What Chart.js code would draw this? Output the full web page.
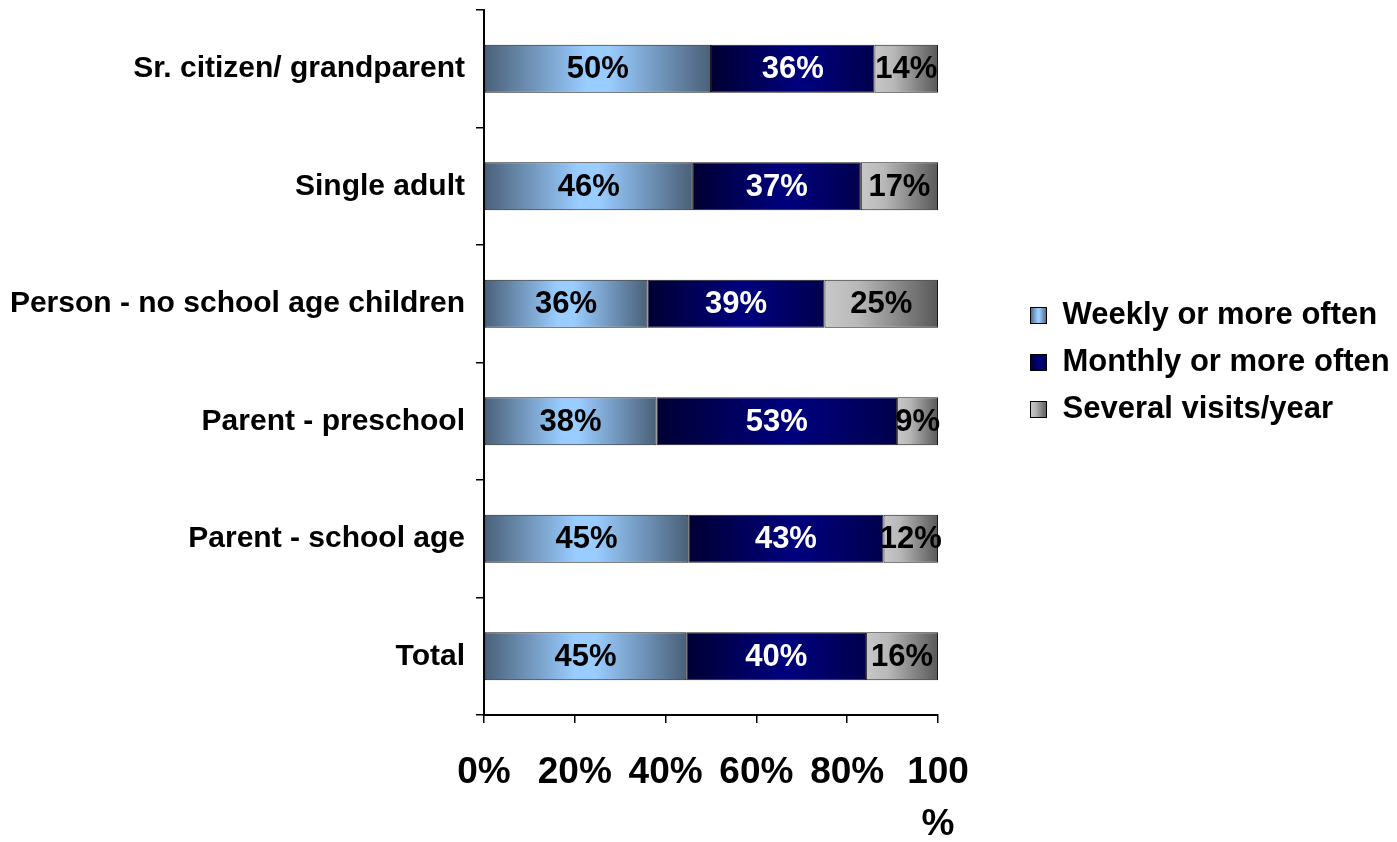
<!DOCTYPE html>
<html>
<head>
<meta charset="utf-8">
<script src="https://cdn.jsdelivr.net/npm/chart.js@4/dist/chart.umd.min.js"></script>
<style>
  html, body { margin: 0; padding: 0; background: #fff; }
  #wrap { width: 1397px; height: 842px; }
</style>
</head>
<body>
<div id="wrap"><canvas id="chart" width="1397" height="842"></canvas></div>
<script>
const categories = ['Sr. citizen/ grandparent', 'Single adult', 'Person - no school age children', 'Parent - preschool', 'Parent - school age', 'Total'];
const seriesNames = ['Weekly or more often', 'Monthly or more often', 'Several visits/year'];
const weekly = [50, 46, 36, 38, 45, 45];
const monthly = [36, 37, 39, 53, 43, 40];
const several = [14, 17, 25, 9, 12, 16];
const xTicks = [0, 20, 40, 60, 80, 100];

const FONT = "'Liberation Sans', Arial, sans-serif";

// gradient stops, left to right across each segment
const weeklyStops = [[0, '#4a6078'], [0.45, '#99ccff'], [0.55, '#99ccff'], [1, '#4a6078']];
const monthlyStops = [[0, '#000033'], [0.55, '#000080'], [1, '#00004d']];
const severalStops = [[0, '#c8c8c8'], [0.3, '#b8b8b8'], [1, '#585858']];

const raw = [weekly, monthly, several];
// 100% stacked: each row scaled to its own total
const rowTotals = categories.map((c, i) => weekly[i] + monthly[i] + several[i]);
const pct = raw.map(arr => arr.map((v, i) => v / rowTotals[i] * 100));

function barFill(stops) {
    return function(ctx) {
        const chart = ctx.chart;
        const x = chart.scales.x;
        if (!x || !chart.chartArea || ctx.type !== 'data') return stops[1][1];
        let start = 0;
        for (let k = 0; k < ctx.datasetIndex; k++) start += pct[k][ctx.dataIndex];
        const end = start + pct[ctx.datasetIndex][ctx.dataIndex];
        const g = chart.ctx.createLinearGradient(x.getPixelForValue(start), 0, x.getPixelForValue(end), 0);
        stops.forEach(s => g.addColorStop(s[0], s[1]));
        return g;
    };
}

function legendSwatch(stops) {
    const c = document.createElement('canvas');
    c.width = 17; c.height = 17;
    const g2 = c.getContext('2d');
    const g = g2.createLinearGradient(0, 0, 17, 0);
    stops.forEach(s => g.addColorStop(s[0], s[1]));
    g2.fillStyle = g;
    g2.fillRect(0, 0, 17, 17);
    g2.strokeStyle = '#000';
    g2.lineWidth = 1;
    g2.strokeRect(0.5, 0.5, 16, 16);
    return c;
}

const allStops = [weeklyStops, monthlyStops, severalStops];
const swatches = allStops.map(legendSwatch);
const labelColors = ['#000', '#fff', '#000'];

// value labels centred in each segment
const segmentLabels = {
    id: 'segmentLabels',
    afterDatasetsDraw(chart) {
        const c = chart.ctx;
        c.save();
        c.font = 'bold 31px ' + FONT;
        c.textAlign = 'center';
        c.textBaseline = 'middle';
        chart.data.datasets.forEach((ds, d) => {
            chart.getDatasetMeta(d).data.forEach((el, i) => {
                c.fillStyle = labelColors[d];
                c.fillText(raw[d][i] + '%', (el.x + el.base) / 2, el.y + 1);
            });
        });
        c.restore();
    }
};

// legend sits well right of the plot, centred on the plot height
const legendShift = {
    id: 'legendShift',
    afterLayout(chart) {
        const lg = chart.legend;
        if (!lg) return;
        lg.left = 1014;
        lg.right = 1397;
        lg.width = lg.right - lg.left;
        lg.top = chart.chartArea.top;
        lg.bottom = chart.chartArea.bottom;
        lg.height = lg.bottom - lg.top;
    }
};

new Chart(document.getElementById('chart'), {
    type: 'bar',
    data: {
        labels: categories,
        datasets: seriesNames.map((name, d) => ({
            label: name,
            data: pct[d],
            backgroundColor: barFill(allStops[d]),
            borderColor: '#1a1a1a',
            borderWidth: 1,
            borderSkipped: false,
            categoryPercentage: 1,
            barPercentage: 0.41
        }))
    },
    options: {
        indexAxis: 'y',
        responsive: false,
        animation: false,
        devicePixelRatio: 1,
        layout: { padding: { top: 10, left: 0, right: 0, bottom: 0 } },
        scales: {
            x: {
                stacked: true,
                min: 0,
                max: 100,
                afterBuildTicks(s) { s.ticks = xTicks.map(v => ({ value: v })); },
                afterFit(s) { s.height = 127; s.paddingRight = 459; },
                border: { color: '#000', width: 2 },
                grid: { drawOnChartArea: false, tickLength: 8, color: '#000', lineWidth: 1.5 },
                ticks: {
                    color: '#000',
                    padding: 24,
                    maxRotation: 0,
                    font: { family: FONT, size: 37, weight: 'bold', lineHeight: 1.4 },
                    callback: v => v === 100 ? ['100', '%'] : v + '%'
                }
            },
            y: {
                stacked: true,
                afterFit(s) { s.width = 484; s.paddingTop = 0; s.paddingBottom = 0; },
                border: { color: '#000', width: 2 },
                grid: { offset: true, drawOnChartArea: false, tickLength: 8, color: '#000', lineWidth: 1.5 },
                ticks: {
                    color: '#000',
                    padding: 11,
                    font: { family: FONT, size: 30, weight: 'bold' }
                }
            }
        },
        plugins: {
            tooltip: { enabled: false },
            legend: {
                position: 'right',
                labels: {
                    color: '#000',
                    font: { family: FONT, size: 31, weight: 'bold' },
                    boxWidth: 17,
                    boxHeight: 17,
                    padding: 16,
                    usePointStyle: true,
                    generateLabels(chart) {
                        const items = Chart.defaults.plugins.legend.labels.generateLabels(chart);
                        items.forEach((it, i) => { it.pointStyle = swatches[i]; });
                        return items;
                    }
                }
            }
        }
    },
    plugins: [segmentLabels, legendShift]
});
</script>
</body>
</html>
